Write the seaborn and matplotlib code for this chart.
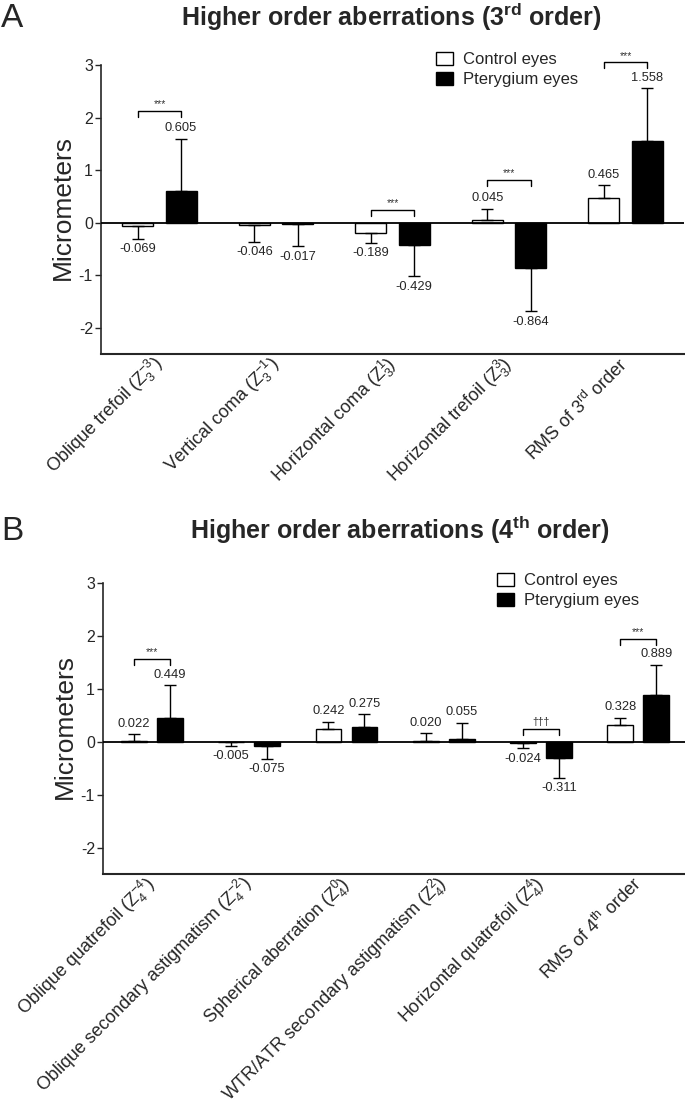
import numpy as np
import pandas as pd
import matplotlib
matplotlib.use('Agg')
import matplotlib.pyplot as plt
import seaborn as sns
from matplotlib.patches import Patch

# Values (mean and SD, micrometers)
terms_3 = ['Oblique trefoil ($\\mathrm{Z}_3^{-3}$)',
           'Vertical coma ($\\mathrm{Z}_3^{-1}$)',
           'Horizontal coma ($\\mathrm{Z}_3^{1}$)',
           'Horizontal trefoil ($\\mathrm{Z}_3^{3}$)',
           'RMS of 3$^{\\mathrm{rd}}$ order']
control_3 = [-0.069, -0.046, -0.189, 0.045, 0.465]
control_sd_3 = [0.24, 0.32, 0.19, 0.22, 0.25]
pteryg_3 = [0.605, -0.017, -0.429, -0.864, 1.558]
pteryg_sd_3 = [1.00, 0.43, 0.59, 0.82, 1.01]
sig_idx_3 = [0, 2, 3, 4]
sig_y_3 = [2.13, 0.25, 0.82, 3.06]
sig_txt_3 = ['***', '***', '***', '***']

terms_4 = ['Oblique quatrefoil ($\\mathrm{Z}_4^{-4}$)',
           'Oblique secondary astigmatism ($\\mathrm{Z}_4^{-2}$)',
           'Spherical aberration ($\\mathrm{Z}_4^{0}$)',
           'WTR/ATR secondary astigmatism ($\\mathrm{Z}_4^{2}$)',
           'Horizontal quatrefoil ($\\mathrm{Z}_4^{4}$)',
           'RMS of 4$^{\\mathrm{th}}$ order']
control_4 = [0.022, -0.005, 0.242, 0.020, -0.024, 0.328]
control_sd_4 = [0.12, 0.07, 0.14, 0.14, 0.10, 0.13]
pteryg_4 = [0.449, -0.075, 0.275, 0.055, -0.311, 0.889]
pteryg_sd_4 = [0.62, 0.25, 0.25, 0.31, 0.37, 0.57]
sig_idx_4 = [0, 4, 5]
sig_y_4 = [1.57, 0.246, 1.95]
sig_txt_4 = ['***', '\u2020\u2020\u2020', '***']

groups = ['Control eyes', 'Pterygium eyes']
colors = {'Control eyes': 'white', 'Pterygium eyes': 'black'}

sns.set_style('ticks')
plt.rcParams['font.family'] = ['Liberation Sans', 'DejaVu Sans']
plt.rcParams['mathtext.fontset'] = 'custom'
plt.rcParams['mathtext.rm'] = 'Liberation Sans'
plt.rcParams['mathtext.it'] = 'Liberation Sans'
plt.rcParams['mathtext.bf'] = 'Liberation Sans:bold'
plt.rcParams['axes.unicode_minus'] = False


def draw_panel(ax, terms, ctrl, ctrl_sd, pter, pter_sd, sig_idx, sig_y, sig_txt, leg_pos):
    n = len(terms)
    df = pd.DataFrame({'term': terms * 2,
                       'group': [groups[0]] * n + [groups[1]] * n,
                       'mean': ctrl + pter,
                       'sd': ctrl_sd + pter_sd})
    sns.barplot(data=df, x='term', y='mean', hue='group', order=terms, hue_order=groups,
                palette=colors, edgecolor='black', linewidth=1.0, width=0.74, gap=0.28,
                errorbar=None, legend=False, ax=ax, zorder=2)

    centers = []
    for cont, means, sds in zip(ax.containers, [ctrl, pter], [ctrl_sd, pter_sd]):
        xs = [b.get_x() + b.get_width() / 2 for b in cont]
        centers.append(xs)
        lo = [s if m < 0 else 0 for m, s in zip(means, sds)]
        hi = [s if m >= 0 else 0 for m, s in zip(means, sds)]
        ax.errorbar(xs, means, yerr=[lo, hi], fmt='none', ecolor='black',
                    elinewidth=1.0, capsize=4.5, capthick=1.0, zorder=3)
        for x, m, s in zip(xs, means, sds):
            end = m + s if m >= 0 else m - s
            off = 7.5 if m >= 0 else -7.5
            ax.annotate(f'{m:.3f}', (x, end), xytext=(0, off), textcoords='offset points',
                        ha='center', va='center', fontsize=9.3)

    ax.axhline(0, color='black', lw=1.3, zorder=4)

    # significance brackets
    for i, y, t in zip(sig_idx, sig_y, sig_txt):
        x0, x1 = centers[0][i], centers[1][i]
        ax.plot([x0, x0, x1, x1], [y - 0.12, y, y, y - 0.12], color='black', lw=1.0)
        ax.annotate(t, ((x0 + x1) / 2, y), xytext=(0, 1), textcoords='offset points',
                    ha='center', va='bottom', fontsize=7.5, color='#333333')

    ax.set_xlim(-0.5, n - 0.5)
    ax.set_ylim(-2.5, 3.3)
    ax.set_yticks(range(-2, 4))
    sns.despine(ax=ax)
    ax.spines['left'].set_bounds(-2.5, 3)
    ax.spines['left'].set_linewidth(1.2)
    ax.spines['bottom'].set_linewidth(1.5)
    ax.tick_params(axis='y', length=4, width=1.0, labelsize=11.5, pad=2)
    ax.tick_params(axis='x', length=0, pad=5)
    ax.set_xticks(range(n))
    ax.set_xticklabels(terms, rotation=45, ha='right', va='center',
                       rotation_mode='anchor', fontsize=13)
    ax.set_xlabel('')
    ax.set_ylabel('Micrometers', fontsize=19)
    ax.yaxis.set_label_coords(-0.045, 0.481)

    handles = [Patch(facecolor=colors[g], edgecolor='black', linewidth=1.0) for g in groups]
    ax.legend(handles, groups, loc='upper left', bbox_to_anchor=leg_pos, frameon=False,
              fontsize=12, borderpad=0, borderaxespad=0, handlelength=1.0,
              handleheight=0.8, handletextpad=0.6, labelspacing=0.3)


fig = plt.figure(figsize=(6.85, 11.13), dpi=100)
ax_a = fig.add_axes([0.1478, 0.6819, 0.8504, 0.2736])
ax_b = fig.add_axes([0.1507, 0.2147, 0.8523, 0.2755])

draw_panel(ax_a, terms_3, control_3, control_sd_3, pteryg_3, pteryg_sd_3,
           sig_idx_3, sig_y_3, sig_txt_3, (0.575, 0.992))
draw_panel(ax_b, terms_4, control_4, control_sd_4, pteryg_4, pteryg_sd_4,
           sig_idx_4, sig_y_4, sig_txt_4, (0.675, 0.982))

fig.text(0.002, 1 - 27.3 / 1113, 'A', fontsize=24, va='baseline', ha='left')
fig.text(0.002, 1 - 540 / 1113, 'B', fontsize=24, va='baseline', ha='left')
fig.text(0.571, 1 - 26 / 1113, 'Higher order aberrations (3$^{\\mathbf{rd}}$ order)',
         fontsize=18, weight='bold', ha='center', va='baseline')
fig.text(0.584, 1 - 539 / 1113, 'Higher order aberrations (4$^{\\mathbf{th}}$ order)',
         fontsize=18, weight='bold', ha='center', va='baseline')

fig.savefig('out.png', dpi=100)
